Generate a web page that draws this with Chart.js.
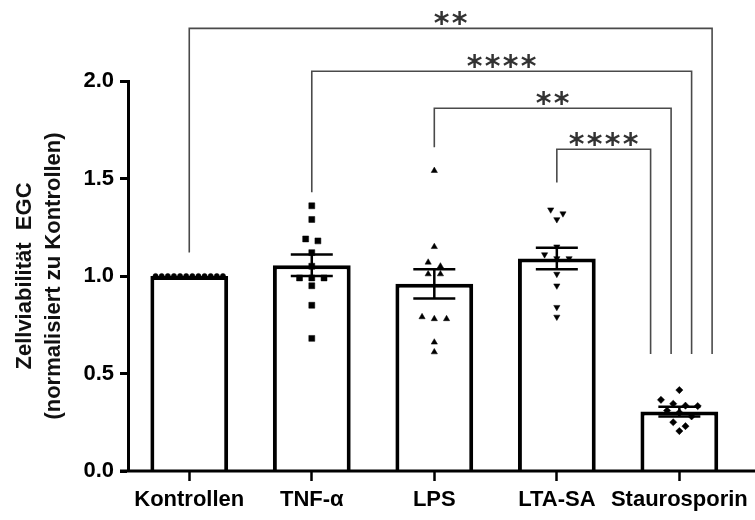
<!DOCTYPE html>
<html>
<head>
<meta charset="utf-8">
<script src="https://cdn.jsdelivr.net/npm/chart.js@4.4.0/dist/chart.umd.min.js"></script>
<style>
  html, body { margin: 0; padding: 0; background: #fff; }
  canvas { display: block; }
</style>
</head>
<body>
<canvas id="chart" width="755" height="520"></canvas>
<script>
// Categories and bar values (mean +/- SEM)
const categories = ['Kontrollen', 'TNF-α', 'LPS', 'LTA-SA', 'Staurosporin'];
const means = [1.0, 1.055, 0.96, 1.09, 0.305];
const sems = [0, 0.055, 0.075, 0.055, 0.025];

// Single measurements per group
const kontrollen = [1, 1, 1, 1, 1, 1, 1, 1, 1, 1, 1, 1];
const tnf = [1.36, 1.29, 1.19, 1.18, 1.12, 1.05, 0.99, 0.99, 0.99, 0.95, 0.85, 0.68];
const lps = [1.54, 1.15, 1.07, 1.05, 1.01, 1.01, 0.79, 0.78, 0.78, 0.66, 0.61];
const ltaSa = [1.34, 1.32, 1.29, 1.15, 1.11, 1.09, 1.09, 1.01, 0.95, 0.84, 0.79];
const staurosporin = [0.415, 0.365, 0.345, 0.335, 0.333, 0.31, 0.30, 0.28, 0.25, 0.23, 0.205];

const yTicks = [0, 0.5, 1.0, 1.5, 2.0];

// Significance brackets: group a vs group b
const comparisons = [
	{ a: 0, b: 4, level: 2.27, legA: 1.12, legB: 0.6, stars: '**' },
	{ a: 1, b: 4, level: 2.05, legA: 1.43, legB: 0.6, stars: '****' },
	{ a: 2, b: 4, level: 1.86, legA: 1.66, legB: 0.6, stars: '**' },
	{ a: 3, b: 4, level: 1.65, legA: 1.48, legB: 0.6, stars: '****' }
];

const groups = [kontrollen, tnf, lps, ltaSa, staurosporin];
const styles = [
	{ pointStyle: 'circle', radius: 2.6, rotation: 0 },
	{ pointStyle: 'rect', radius: 4.2, rotation: 0 },
	{ pointStyle: 'triangle', radius: 3.6, rotation: 0 },
	{ pointStyle: 'triangle', radius: 3.6, rotation: 180 },
	{ pointStyle: 'rectRot', radius: 3.6, rotation: 0 }
];

// Spread points with nearly equal values side by side (like a scatter dot plot)
function spread(values, index) {
	const sorted = values.slice().sort((p, q) => q - p);
	const clusters = [];
	sorted.forEach((v) => {
		const last = clusters[clusters.length - 1];
		if (last && last[0] - v < 0.035) {
			last.push(v);
		} else {
			clusters.push([v]);
		}
	});
	const points = [];
	clusters.forEach((c) => {
		const step = Math.min(0.1, 0.6 / c.length);
		c.forEach((v, k) => {
			points.push({ x: index + (k - (c.length - 1) / 2) * step, y: v });
		});
	});
	return points;
}

const font = '"Liberation Sans", Arial, sans-serif';

const datasets = [
	{
		type: 'bar',
		data: means,
		backgroundColor: '#fff',
		borderColor: '#000',
		borderWidth: 4,
		barPercentage: 0.635,
		categoryPercentage: 1,
		grouped: false,
		xAxisID: 'x',
		order: 2
	}
];
groups.forEach((g, i) => {
	datasets.push({
		type: 'scatter',
		data: spread(g, i),
		xAxisID: 'xs',
		pointStyle: styles[i].pointStyle,
		pointRadius: styles[i].radius,
		pointRotation: styles[i].rotation,
		backgroundColor: '#000',
		borderColor: '#000',
		borderWidth: 0.5,
		order: 1
	});
});

const extras = {
	id: 'extras',
	afterDatasetsDraw(chart) {
		const ctx = chart.ctx;
		const x = chart.scales.x;
		const y = chart.scales.y;
		const area = chart.chartArea;
		ctx.save();

		// x axis line, running a bit past the plot on both sides
		ctx.strokeStyle = '#000';
		ctx.lineWidth = 3;
		ctx.beginPath();
		ctx.moveTo(area.left - 8, y.getPixelForValue(0));
		ctx.lineTo(chart.width, y.getPixelForValue(0));
		ctx.stroke();

		// error bars
		ctx.lineWidth = 2.5;
		means.forEach((m, i) => {
			if (!sems[i]) return;
			const cx = x.getPixelForValue(i);
			const top = y.getPixelForValue(m + sems[i]);
			const bottom = y.getPixelForValue(m - sems[i]);
			ctx.beginPath();
			ctx.moveTo(cx, top);
			ctx.lineTo(cx, bottom);
			ctx.moveTo(cx - 21, top);
			ctx.lineTo(cx + 21, top);
			ctx.moveTo(cx - 21, bottom);
			ctx.lineTo(cx + 21, bottom);
			ctx.stroke();
		});

		// significance brackets
		ctx.strokeStyle = '#4a4a4a';
		ctx.lineWidth = 1.6;
		ctx.fillStyle = '#333';
		ctx.font = 'bold 30px "DejaVu Sans", sans-serif';
		ctx.textAlign = 'center';
		ctx.textBaseline = 'alphabetic';
		const m = ctx.measureText('*');
		const starShift = (m.actualBoundingBoxAscent - m.actualBoundingBoxDescent) / 2;
		comparisons.forEach((c, i) => {
			const xa = x.getPixelForValue(c.a);
			const xb = x.getPixelForValue(c.b) + (1.5 - i) * 20.5 + 2;
			const yl = y.getPixelForValue(c.level);
			ctx.beginPath();
			ctx.moveTo(xa, y.getPixelForValue(c.legA));
			ctx.lineTo(xa, yl);
			ctx.lineTo(xb, yl);
			ctx.lineTo(xb, y.getPixelForValue(c.legB));
			ctx.stroke();
			const mid = (xa + xb) / 2;
			const n = c.stars.length;
			for (let k = 0; k < n; k++) {
				ctx.fillText('*', mid + (k - (n - 1) / 2) * 18, yl - 9.5 + starShift);
			}
		});
		ctx.restore();
	}
};

new Chart(document.getElementById('chart'), {
	data: { labels: categories, datasets: datasets },
	plugins: [extras],
	options: {
		responsive: false,
		animation: false,
		layout: { padding: { left: 8, right: 12, top: 81, bottom: 0 } },
		plugins: {
			legend: { display: false },
			tooltip: { enabled: false }
		},
		scales: {
			x: {
				type: 'category',
				offset: true,
				grid: { display: true, drawOnChartArea: false, offset: false, tickLength: 10, tickWidth: 2.5, tickColor: '#000' },
				border: { display: false },
				ticks: {
					color: '#000',
					padding: 6,
					maxRotation: 0,
					autoSkip: false,
					font: { family: font, size: 22, weight: 'bold' }
				},
				afterFit: (s) => { s.height = 49; }
			},
			xs: {
				type: 'linear',
				min: -0.5,
				max: 4.5,
				display: false
			},
			y: {
				min: 0,
				max: 2,
				afterBuildTicks: (s) => { s.ticks = yTicks.map((v) => ({ value: v })); },
				grid: { drawOnChartArea: false, tickLength: 8, tickWidth: 3, tickColor: '#000' },
				border: { display: true, width: 3, color: '#000' },
				ticks: {
					color: '#000',
					padding: 6,
					font: { family: font, size: 22, weight: 'bold' },
					callback: (v) => v.toFixed(1)
				},
				title: {
					display: true,
					text: ['Zellviabilität  EGC', '(normalisiert zu Kontrollen)'],
					color: '#111',
					padding: { top: 3, bottom: 0 },
					font: { family: font, size: 22, weight: 'bold', lineHeight: 1.3 }
				},
				afterFit: (s) => { s.width = 120; }
			}
		}
	}
});
</script>
</body>
</html>
